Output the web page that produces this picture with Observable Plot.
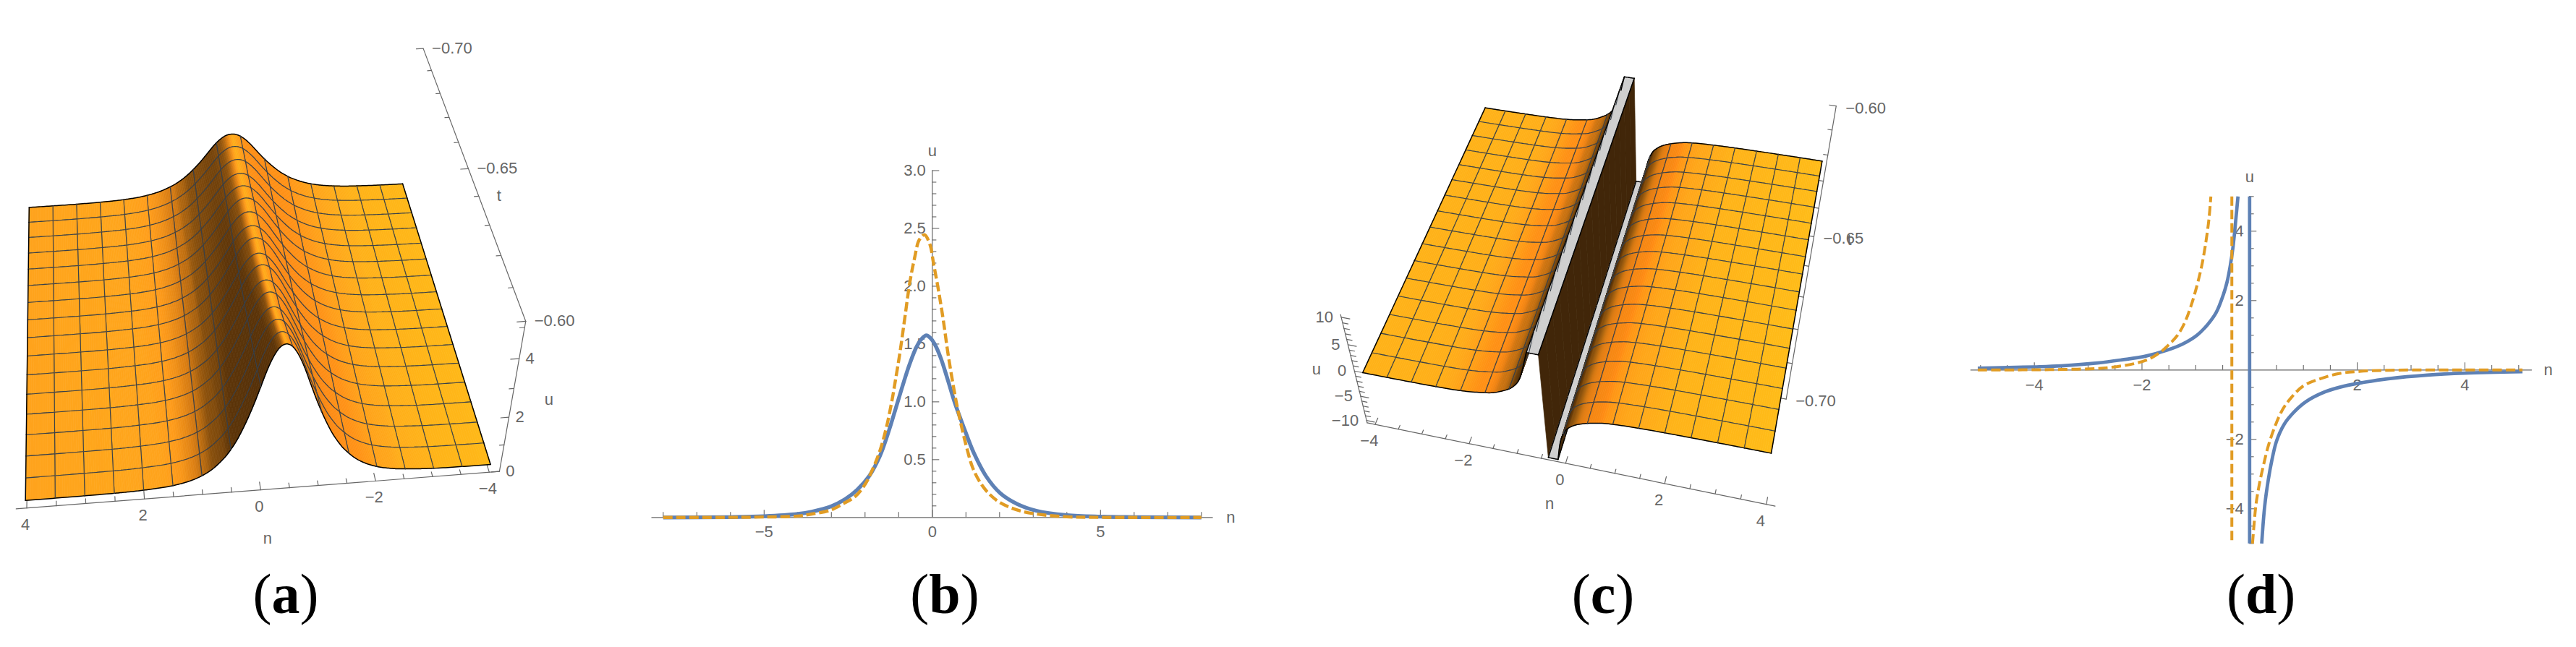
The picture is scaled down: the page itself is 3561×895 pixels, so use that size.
<!DOCTYPE html>
<html><head><meta charset="utf-8">
<style>
html,body{margin:0;padding:0;background:#fff;overflow:hidden;width:3561px;height:895px}
#all{position:absolute;left:0;top:0;width:3561px;height:895px}
.panel{position:absolute;top:0}
.cap{position:absolute;top:822px;transform:translate(-50%,-50%);font:78px/1 "Liberation Serif",serif;color:#000;white-space:nowrap}
</style>
<script src="https://cdn.jsdelivr.net/npm/d3@7"></script>
<script src="https://cdn.jsdelivr.net/npm/@observablehq/plot@0.6"></script>
</head><body>
<div id="all"></div>
<script>
const ridgeHeightA=[2.36,2.43,2.49,2.53,2.64,2.77,2.86,2.96,3.14,3.22,3.45,3.57,3.82,3.99,4.26,4.55,4.86];
const ridgeCenterA=[-.32,-.325,-.33,-.335,-.34,-.345,-.35,-.355,-.36,-.365,-.37,-.375,-.38,-.385,-.39,-.395,-.4];
const ridgeWidthA=[1.26,1.245,1.23,1.21,1.2,1.18,1.165,1.15,1.13,1.115,1.1,1.085,1.065,1.05,1.035,1.015,1];
const profileOffset=[0,.1,.2,.3,.4,.5,.6,.7,.8,.9,1,1.2,1.4,1.6,1.8,2,2.5,3,4,9];
const profileValue=[1,.98,.92,.83,.72,.61,.51,.42,.34,.275,.22,.14,.088,.055,.035,.022,.007,.002,0,0];
const poleN=-.35;
const poleLeftOffset=[-3.65,-2.5,-1.85,-1.5,-1.25,-1,-.8,-.65,-.54,-.45,-.38,-.33,-.28,-.23];
const poleLeftValue=[0,.05,.17,.38,.68,1.1,1.8,2.5,3.3,4.3,5.6,7,8.5,10];
const poleRightOffset=[.2,.24,.28,.33,.42,.52,.63,.77,.92,1.2,1.65,2.5,4.35];
const poleRightValue=[-10,-7.8,-6.1,-4.8,-3.4,-2.6,-2,-1.5,-1.1,-.6,-.3,-.1,0];
const bBlueN=[-8,-6,-5,-4,-3.58,-3.01,-2.59,-2.23,-1.88,-1.56,-1.28,-1.06,-.85,-.67,-.46,-.3,-.177,-.05,.07,.25,.46,.67,.96,1.24,1.6,2.02,2.52,3.09,4,5,6,8];
const bBlueU=[0,.003,.01,.03,.05,.096,.158,.24,.356,.53,.76,.97,1.17,1.33,1.48,1.55,1.575,1.55,1.5,1.38,1.19,.99,.76,.554,.356,.21,.117,.058,.02,.007,.003,0];
const bOrangeN=[-8,-6,-5,-4,-3.58,-3.01,-2.66,-2.3,-1.99,-1.74,-1.56,-1.38,-1.2,-1.1,-.96,-.82,-.67,-.53,-.39,-.234,-.07,.035,.18,.32,.46,.6,.745,.89,1.03,1.2,1.42,1.67,2.02,2.52,3.09,4,5,8];
const bOrangeU=[0,.001,.004,.012,.03,.065,.117,.18,.29,.44,.575,.76,1.01,1.18,1.43,1.72,2.03,2.24,2.4,2.445,2.36,2.2,1.97,1.72,1.43,1.18,.95,.76,.596,.43,.304,.21,.127,.065,.03,.006,.001,0];
const dBlueLeftN=[-5.05,-4,-3.5,-2.83,-2.38,-1.93,-1.52,-1.25,-.98,-.78,-.62,-.486,-.42,-.36,-.306,-.252,-.216];
const dBlueLeftU=[.05,.09,.12,.2,.29,.4,.58,.745,1,1.31,1.66,2.18,2.53,3.0,3.57,4.4,5];
const dBlueRightN=[.225,.28,.347,.414,.5,.64,.82,1.05,1.4,1.77,2.13,2.58,3.3,4,5.07];
const dBlueRightU=[-5,-3.93,-3.17,-2.6,-2.05,-1.57,-1.22,-.91,-.63,-.46,-.354,-.25,-.146,-.09,-.05];
const dBluePoleN=[0,0], dPoleU=[5,-5];
const dOrangeLeftN=[-5.05,-4,-3.5,-2.83,-2.47,-2.15,-1.88,-1.66,-1.48,-1.34,-1.21,-1.09,-.98,-.89,-.824,-.757,-.72];
const dOrangeLeftU=[0,.006,.015,.042,.097,.18,.306,.51,.76,1,1.35,1.84,2.42,3.0,3.57,4.33,5];
const dOrangeRightN=[.054,.077,.12,.18,.257,.347,.46,.595,.75,1,1.315,1.68,2.04,2.58,4,5.07];
const dOrangeRightU=[-5,-4.56,-3.86,-3.3,-2.75,-2.19,-1.67,-1.19,-.84,-.458,-.25,-.097,-.042,-.007,0,0];
const dOrangePoleN=[-.33,-.33];
const nLabelsA=[4,2,0,-2,-4], tLabelsA=[-.7,-.65,-.6], uLabelsA=[0,2,4];
const nLabelsC=[-4,-2,0,2,4], tLabelsC=[-.6,-.65,-.7], uLabelsC=[10,5,0,-5,-10];
const xLabelsB=[-5,0,5], yLabelsB=[.5,1,1.5,2,2.5,3];
const xLabelsD=[-4,-2,2,4], yLabelsD=[-4,-2,2,4];
const BLUE="#5e81b5",ORANGE="#e19c24",AXIS="#666",TXT="#666",MESH="#38404a",EDGE="#000",CAP="#cfcfcf",WALL="#412609";
const slopeNeg=d3.scaleLinear().domain([-6,-3,-1.5,-.8,-.35]).range(["#54300a","#5c3408","#8a500c","#d87c12","#ff9c1a"]).clamp(true);
const slopePos=d3.scaleLinear().domain([.35,1.2,3,6,12,30]).range(["#ffa61a","#ff9216","#fc8a14","#d87a10","#704208","#402408"]).clamp(true);
const slopePosC=d3.scaleLinear().domain([.35,.9,1.6,3,5,8,15]).range(["#ffa81a","#ff9a16","#ff8c14","#e98012","#a8620e","#6a3e0a","#452a0a"]).clamp(true);
const FONT='"Liberation Sans",Arial,sans-serif';
const minus=v=>String(v).replace("-","\u2212");
const fix=(v,d)=>minus(v.toFixed(d));
function solve(A,b){const n=b.length,M=A.map((r,i)=>[...r,b[i]]);
  for(let i=0;i<n;i++){let p=i;for(let j=i+1;j<n;j++)if(Math.abs(M[j][i])>Math.abs(M[p][i]))p=j;[M[i],M[p]]=[M[p],M[i]];
    for(let j=0;j<n;j++)if(j!==i){const f=M[j][i]/M[i][i];for(let k=i;k<=n;k++)M[j][k]-=f*M[i][k];}}
  return M.map((r,i)=>r[n]/r[i]);}
function camera(cfg){
  const q=(n,t)=>[n/4,(t+.65)/.05];
  const A=[],b=[];
  for(const [n,t,X,Y] of cfg.corners){const [a,c]=q(n,t);
    A.push([a,c,1,0,0,0,-a*X,-c*X]);b.push(X);A.push([0,0,0,a,c,1,-a*Y,-c*Y]);b.push(Y);}
  const h=solve(A,b);
  const base=(n,t)=>{const [a,c]=q(n,t);return [h[0]*a+h[1]*c+h[2],h[3]*a+h[4]*c+h[5],h[6]*a+h[7]*c+1];};
  const [Vx,Vy]=cfg.vanish,[rn,rt]=cfg.ref;
  const [,Ny,D]=base(rn,rt),y0=Ny/D,Y=y0-cfg.pxPerU,k=(Y*D-Ny)/(Vy-Y);
  return (n,t,u)=>{const [Nx,Ny2,D2]=base(n,t),w=D2+k*u;return [(Nx+k*Vx*u)/w,(Ny2+k*Vy*u)/w];};
}
const camA=camera({corners:[[4,-.6,34.7,691.8],[-4,-.6,677.6,642.1],[-4,-.7,556.1,254],[4,-.7,39.8,286.5]],vanish:[357,2551],ref:[-.4,-.6],pxPerU:36});
const camC=camera({corners:[[-4,-.6,2052.6,148.6],[4,-.6,2518.4,222.4],[4,-.7,2448,626.5],[-4,-.7,1883.2,515]],vanish:[2295,2236],ref:[poleN,-.65],pxPerU:7.2});
function smoothTable(xs,ys,flatStart,flatEnd){
  const m=xs.map((x,i)=>{
    if(i===0)return flatStart?0:(ys[1]-ys[0])/(xs[1]-xs[0]);
    if(i===xs.length-1)return flatEnd?0:(ys[i]-ys[i-1])/(xs[i]-xs[i-1]);
    return (ys[i+1]-ys[i-1])/(xs[i+1]-xs[i-1]);});
  return x=>{
    if(x<=xs[0])return ys[0];
    if(x>=xs[xs.length-1])return ys[ys.length-1];
    const i=Math.max(0,d3.bisectRight(xs,x)-1),h=xs[i+1]-xs[i],s=(x-xs[i])/h;
    const s2=s*s,s3=s2*s;
    return (2*s3-3*s2+1)*ys[i]+(s3-2*s2+s)*h*m[i]+(-2*s3+3*s2)*ys[i+1]+(s3-s2)*h*m[i+1];};
}
const profile=smoothTable(profileOffset,profileValue,true,true);
const poleL=smoothTable(poleLeftOffset,poleLeftValue,true,false);
const poleR=smoothTable(poleRightOffset,poleRightValue,false,true);
const uA=(n,k)=>ridgeHeightA[k]*profile(Math.abs(n-ridgeCenterA[k])/ridgeWidthA[k]);
const uC=(n,k)=>{const d=n-poleN;return d<0?poleL(d):poleR(d);};
function buildSurface({cam,tAt,uf,cols,shade,clip,extra}){
  const rows=[];let id=0;
  const push=(pts,fill,stroke,w)=>{id++;for(const p of pts)rows.push({id,x:p[0],y:p[1],fill,stroke,w});};
  const line=(samples,isEdge)=>{let run=[];
    const flush=()=>{if(run.length>1)push(run,"none",isEdge?EDGE:MESH,isEdge?1.5:1.1);run=[];};
    for(let i=0;i<samples.length;i++){const s=samples[i],prev=samples[i-1];
      const hidden=!isEdge&&clip&&Math.abs(s.u)>=clip;
      if(hidden||(prev&&Math.abs(s.u-prev.u)>15))flush();
      if(!hidden)run.push(s.p);}
    flush();};
  for(let k=0;k<16;k++)for(let c=0;c<16;c++){
    const n0=-4+c*.5,n1=n0+.5,ns=cols(n0,n1),t0=tAt(k),t1=tAt(k+1);
    for(let i=0;i+1<ns.length;i++){const a=ns[i],b=ns[i+1];
      const P=[cam(a,t0,uf(a,k)),cam(b,t0,uf(b,k)),cam(b,t1,uf(b,k+1)),cam(a,t1,uf(a,k+1))];
      const col=shade(a,b,k);push([...P,P[0]],col,col,.7);}
    const along=(kk)=>ns.map(n=>({u:uf(n,kk),p:cam(n,tAt(kk),uf(n,kk))}));
    const across=(n)=>[k,k+1].map(kk=>({u:uf(n,kk),p:cam(n,tAt(kk),uf(n,kk))}));
    line(along(k),k===0);line(along(k+1),k===15);
    line(across(n0),c===0);line(across(n1),c===15);
    for(const n of extra||[])if(n>=n0&&n<n1)line(across(n),true);
  }
  return rows;
}
const uniformCols=(a,b,m)=>d3.range(m+1).map(i=>a+(b-a)*i/m);
function slopeColor(s,n,base,pos=slopePos){
  const m=Math.min(Math.abs(s)/.35,1);
  const c=s<0?slopeNeg(s):pos(s);
  return d3.interpolateRgb(base(n),c)(m);
}
const baseA=d3.scaleLinear().domain([4,-4]).range(["#ffa31c","#ffb818"]);
const baseC=d3.scaleLinear().domain([-4,4]).range(["#ffb218","#ffbb18"]);
const rowsA=buildSurface({cam:camA,tAt:k=>-.7+k*.00625,uf:uA,
  cols:(a,b)=>uniformCols(a,b,b>-3&&a<2.5?24:12),
  shade:(a,b,k)=>slopeColor(((uA(b,k)+uA(b,k+1))-(uA(a,k)+uA(a,k+1)))/2/(b-a),(a+b)/2,baseA)});
const capEdges=[poleN-.23,poleN-.001,poleN+.001,poleN+.2];
const rowsC=buildSurface({cam:camC,tAt:k=>-.6-k*.00625,uf:uC,clip:10,extra:capEdges,
  cols:(a,b)=>{const near=a<=poleN+.5&&b>=poleN-.5;
    const ns=uniformCols(a,b,near?40:12);
    for(const e of capEdges)if(e>a&&e<b)ns.push(e);
    return ns.sort(d3.ascending);},
  shade:(a,b,k)=>{const ua=uC(a,k),ub=uC(b,k);
    if(ua>=10&&ub<=-10)return WALL;
    if(Math.abs(ua)>=10&&Math.abs(ub)>=10)return CAP;
    return slopeColor((ub-ua)/(b-a),(a+b)/2,baseC,slopePosC);}});
const surfMark=rows=>Plot.line(rows,{x:"x",y:"y",z:"id",fill:"fill",stroke:"stroke",strokeWidth:"w",curve:"linear",strokeLinejoin:"round",strokeMiterlimit:2});
const segMark=(segs,w=1.2)=>Plot.line(segs.flatMap((s,i)=>s.map(p=>({id:i,x:p[0],y:p[1]}))),{x:"x",y:"y",z:"id",stroke:AXIS,strokeWidth:w});
const textMark=(rows,o={})=>Plot.text(rows,{x:"x",y:"y",text:"s",fill:TXT,fontSize:22,fontFamily:FONT,lineAnchor:"middle",...o});
const aN=4.18,aBot=-.3,aTop=5.05,aT0=-.6,aT1=-.7;
const aTick=u=>1.03*u-.3;
const segsA=[
  [camA(aN,aT0,aBot),camA(-aN,aT0,aBot)],
  [camA(-aN,aT0,aBot),camA(-aN,aT0,aTop)],
  [camA(-aN,aT0,aTop),camA(-aN,aT1,aTop)],
  ...d3.range(-4,4.01,.5).map(n=>[camA(n,aT0,aBot),camA(n,aT0-(n%2===0?.0022:.0013),aBot)]),
  ...d3.range(0,11).map(i=>{const t=aT0-i*.01;return [camA(-aN,t,aTop),camA(-aN+(i%5===0?.14:.08),t,aTop)];}),
  ...d3.range(0,6).map(u=>[camA(-aN,aT0,aTick(u)),camA(-aN+(u%2===0?.14:.08),aT0,aTick(u))])
];
const textA=nLabelsA.map(n=>{const p=camA(n,aT0,aBot);return {x:p[0],y:p[1],s:minus(n)};});
const textAt=tLabelsA.map(t=>{const p=camA(-aN,t,aTop);return {x:p[0],y:p[1],s:fix(t,2)};});
const textAu=uLabelsA.map(u=>{const p=camA(-aN,aT0,aTick(u));return {x:p[0],y:p[1],s:String(u)};});
const lblA=(s,n,t,u)=>{const p=camA(n,t,u);return [{x:p[0],y:p[1],s}];};
const cN=4.17,cTop=10.5,cBot=-10.5,cF=-.7,cB=-.6;
const segsC=[
  [camC(-cN,cF,cBot),camC(cN,cF,cBot)],
  [camC(-cN,cF,cBot),camC(-cN,cF,cTop)],
  [camC(cN,cB,cTop),camC(cN,cF,cTop)],
  ...d3.range(-4,4.01,.5).map(n=>[camC(n,cF,cBot),camC(n,cF+(n%2===0?.002:.0012),cBot)]),
  ...d3.range(-10,11).map(u=>[camC(-cN,cF,u),camC(-cN+(u%5===0?.17:.11),cF,u)]),
  ...d3.range(0,11).map(i=>{const t=cB-i*.01;return [camC(cN,t,cTop),camC(cN-(i%5===0?.15:.09),t,cTop)];})
];
const textC=nLabelsC.map(n=>{const p=camC(n,cF,cBot);return {x:p[0],y:p[1],s:minus(n)};});
const textCt=tLabelsC.map(t=>{const p=camC(cN,t,cTop);return {x:p[0],y:p[1],s:fix(t,2)};});
const textCu=uLabelsC.map(u=>{const p=camC(-cN,cF,u);return {x:p[0],y:p[1],s:minus(u)};});
const lblC=(s,n,t,u)=>{const p=camC(n,t,u);return [{x:p[0],y:p[1],s}];};
const scene=(left,w,marks)=>Plot.plot({width:w,height:895,margin:0,
  x:{domain:[left,left+w],range:[0,w],axis:null},y:{domain:[0,895],range:[0,895],axis:null},
  style:{background:"transparent"},marks});
const zip=(xs,ys)=>xs.map((n,i)=>({n,u:ys[i]}));
const lineOf=(xs,ys,stroke,w,dash)=>Plot.line(zip(xs,ys),{x:"n",y:"u",stroke,strokeWidth:w,strokeDasharray:dash,strokeLinecap:"butt",strokeLinejoin:"round",curve:"catmull-rom"});
const figures=[
 {left:0,w:850,cap:"a",capX:395,svg:()=>scene(0,850,[
   segMark(segsA),
   textMark(textA,{dy:23,dx:-2}),
   textMark(textAt,{textAnchor:"start",dx:12}),
   textMark(textAu,{dx:15}),
   textMark(lblA("n",-.12,aT0,aBot),{dy:68}),
   textMark(lblA("t",-aN,-.64,aTop),{dx:28}),
   textMark(lblA("u",-aN,aT0,2.4),{dx:51}),
   surfMark(rowsA)])},
 {left:850,w:900,cap:"b",capX:1306,svg:()=>Plot.plot({width:900,height:895,margin:0,
   x:{domain:[-8,8],range:[1288.3-850-372,1288.3-850+372],axis:null},
   y:{domain:[0,3],range:[715.3,235.5],axis:null},style:{background:"transparent"},
   marks:[
    Plot.ruleY([0],{x1:-8.34,x2:8.35,stroke:AXIS,strokeWidth:1.2}),
    Plot.ruleX([0],{y1:0,y2:3,stroke:AXIS,strokeWidth:1.2}),
    Plot.ruleX(d3.range(-8,9),{x:d=>d,y1:0,y2:d=>d%5===0?.0625:.044,stroke:AXIS,strokeWidth:1.1}),
    Plot.ruleY(d3.range(1,31).map(d=>d/10),{y:d=>d,x1:0,x2:d=>Math.round(d*10)%5===0?.215:.13,stroke:AXIS,strokeWidth:1.1}),
    textMark(xLabelsB.map(n=>({x:n,y:0,s:minus(n)})),{dy:20.5}),
    textMark(yLabelsB.map(u=>({x:0,y:u,s:u.toFixed(1)})),{textAnchor:"end",dx:-9}),
    textMark([{x:8.87,y:0,s:"n"}]),
    textMark([{x:0,y:3,s:"u"}],{dy:-27}),
    lineOf(bBlueN,bBlueU,BLUE,5.3),
    lineOf(bOrangeN,bOrangeU,ORANGE,4.4,"13 5")]})},
 {left:1750,w:950,cap:"c",capX:2216,svg:()=>scene(1750,950,[
   segMark(segsC),
   textMark(textC,{dy:23,dx:-8}),
   textMark(textCt,{textAnchor:"start",dx:13,dy:3}),
   textMark(textCu,{textAnchor:"end",dx:-11}),
   textMark(lblC("n",-.33,cF,cBot),{dy:61}),
   textMark(lblC("t",cN,-.65,cTop),{dx:49,dy:5}),
   textMark(lblC("u",-cN,cF,.3),{dx:-52}),
   surfMark(rowsC)])},
 {left:2700,w:861,cap:"d",capX:3125.6,svg:()=>Plot.plot({width:861,height:895,margin:0,
   x:{domain:[-5,5],range:[3109.3-2700-372,3109.3-2700+372],axis:null},
   y:{domain:[-5,5],range:[751.3,271.3],axis:null},style:{background:"transparent"},
   marks:[
    Plot.ruleY([0],{x1:-5.18,x2:5.25,stroke:AXIS,strokeWidth:1.2}),
    Plot.ruleX([0],{y1:-5,y2:5,stroke:AXIS,strokeWidth:1.2}),
    Plot.ruleX(d3.range(-10,11).map(d=>d/2).filter(d=>d),{x:d=>d,y1:0,y2:d=>d%2===0?.21:.13,stroke:AXIS,strokeWidth:1.1}),
    Plot.ruleY(d3.range(-10,11).map(d=>d/2).filter(d=>d),{y:d=>d,x1:0,x2:d=>d%2===0?.134:.085,stroke:AXIS,strokeWidth:1.1}),
    textMark(xLabelsD.map(n=>({x:n,y:0,s:minus(n)})),{dy:21}),
    textMark(yLabelsD.map(u=>({x:0,y:u,s:minus(u)})),{textAnchor:"end",dx:-8}),
    textMark([{x:5.55,y:0,s:"n"}]),
    textMark([{x:0,y:5,s:"u"}],{dy:-27}),
    lineOf(dBlueLeftN,dBlueLeftU,BLUE,4.7),
    lineOf(dBlueRightN,dBlueRightU,BLUE,4.7),
    lineOf(dBluePoleN,dPoleU,BLUE,4.7),
    lineOf(dOrangeLeftN,dOrangeLeftU,ORANGE,4,"13 5.5"),
    lineOf(dOrangeRightN,dOrangeRightU,ORANGE,4,"13 5.5"),
    lineOf(dOrangePoleN,dPoleU,ORANGE,4,"13 5.5")]})}
];
const host=document.getElementById("all");
for(const f of figures){
  const d=document.createElement("div");d.className="panel";d.style.left=f.left+"px";d.style.width=f.w+"px";
  d.appendChild(f.svg());host.appendChild(d);
  const c=document.createElement("div");c.className="cap";c.style.left=f.capX+"px";
  c.innerHTML="(<b>"+f.cap+"</b>)";host.appendChild(c);
}
</script>
</body></html>
